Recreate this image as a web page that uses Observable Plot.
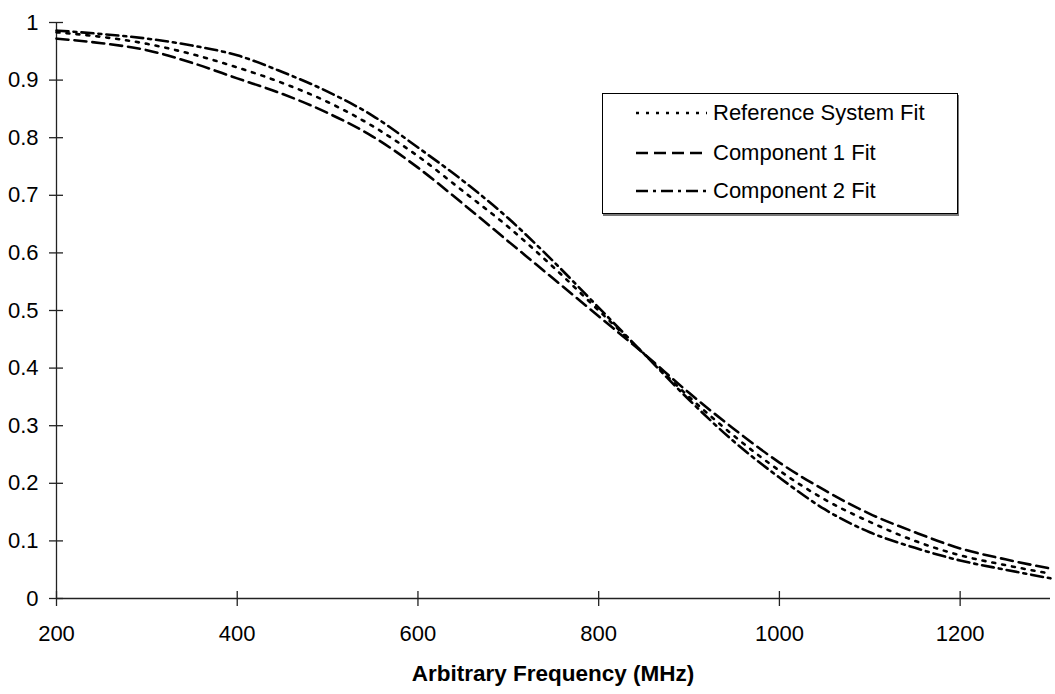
<!DOCTYPE html>
<html>
<head>
<meta charset="utf-8">
<script src="https://cdn.jsdelivr.net/npm/d3@7"></script>
<script src="https://cdn.jsdelivr.net/npm/@observablehq/plot@0.6"></script>
<style>
  body { margin: 0; background: #fff; font-family: "Liberation Sans", Arial, sans-serif; }
  #wrap { position: relative; width: 1055px; height: 694px; }
  #legend { position: absolute; left: 602px; top: 93px; width: 354px; height: 119px;
    border: 1px solid #000; background: #fff; box-shadow: 1px 2px 0 #777; }
  .row { position: absolute; left: 0; height: 26px; display: flex; align-items: center; }
  .row svg { margin-left: 33px; }
  .row span { font-size: 22px; color: #000; margin-left: 6px; white-space: nowrap; }
  #xtitle { position: absolute; left: 0; width: 1106px; top: 661px; text-align: center;
    font-weight: bold; font-size: 22.5px; color: #000; }
</style>
</head>
<body>
<div id="wrap">
  <div id="chart"></div>
  <div id="legend"></div>
  <div id="xtitle">Arbitrary Frequency (MHz)</div>
</div>
<script>
const freq = [200,250,300,350,400,450,500,550,600,650,700,750,800,850,900,950,1000,1050,1100,1150,1200,1250,1300];
const referenceFit = [0.983,0.975,0.963,0.945,0.922,0.895,0.862,0.820,0.768,0.707,0.645,0.575,0.500,0.425,0.350,0.282,0.222,0.172,0.133,0.100,0.075,0.058,0.043];
const component1Fit = [0.972,0.964,0.952,0.930,0.903,0.876,0.843,0.802,0.748,0.685,0.620,0.555,0.490,0.425,0.357,0.294,0.236,0.188,0.147,0.115,0.087,0.068,0.052];
const component2Fit = [0.986,0.980,0.972,0.960,0.943,0.914,0.880,0.838,0.783,0.725,0.660,0.585,0.505,0.425,0.345,0.272,0.210,0.155,0.115,0.088,0.066,0.050,0.035];
const seriesNames = ["Reference System Fit", "Component 1 Fit", "Component 2 Fit"];
const seriesDash = ["3,7", "12,6", "12,5,3,5"];
const yTicks = [0,0.1,0.2,0.3,0.4,0.5,0.6,0.7,0.8,0.9,1];
const xTicks = [200,400,600,800,1000,1200];

const seriesValues = [referenceFit, component1Fit, component2Fit];
const rows = [];
seriesValues.forEach((vals, s) => vals.forEach((v, i) => rows.push({series: seriesNames[s], f: freq[i], v})));

const fmt = d => String(+d.toFixed(1));

const chart = Plot.plot({
  width: 1055,
  height: 694,
  marginLeft: 56,
  marginRight: 5,
  marginTop: 22,
  marginBottom: 96,
  style: {fontFamily: '"Liberation Sans", Arial, sans-serif', fontSize: "22px", color: "#000", background: "#fff"},
  x: {domain: [200, 1300], axis: null},
  y: {domain: [0, 1], axis: null},
  marks: [
    Plot.ruleX([200], {stroke: "#222", strokeWidth: 1.3}),
    Plot.ruleY([0], {stroke: "#222", strokeWidth: 1.3}),
    Plot.axisY({ticks: yTicks, tickSize: 14, dx: 7, tickFormat: () => "", stroke: "#222", strokeWidth: 1.3, label: null}),
    Plot.axisY({ticks: yTicks, tickSize: 0, tickPadding: 18, tickFormat: fmt, fill: "#000", label: null}),
    Plot.axisX({ticks: xTicks, tickSize: 15, dy: -7, tickFormat: () => "", stroke: "#222", strokeWidth: 1.3, label: null}),
    Plot.axisX({ticks: xTicks, tickSize: 0, tickPadding: 27, tickFormat: d => String(d), fill: "#000", label: null}),
    ...seriesNames.map((name, s) =>
      Plot.line(rows.filter(r => r.series === name), {
        x: "f", y: "v", curve: "monotone-x", stroke: "#000", strokeWidth: 2.6,
        strokeDasharray: seriesDash[s]
      }))
  ]
});
document.getElementById("chart").appendChild(chart);

const legend = document.getElementById("legend");
const rowTops = [6, 46, 84];
seriesNames.forEach((name, s) => {
  const row = document.createElement("div");
  row.className = "row";
  row.style.top = rowTops[s] + "px";
  row.innerHTML = `<svg width="71" height="10"><line x1="0" y1="5" x2="71" y2="5" stroke="#000" stroke-width="2.6" stroke-dasharray="${seriesDash[s]}"/></svg><span>${name}</span>`;
  legend.appendChild(row);
});
</script>
</body>
</html>
